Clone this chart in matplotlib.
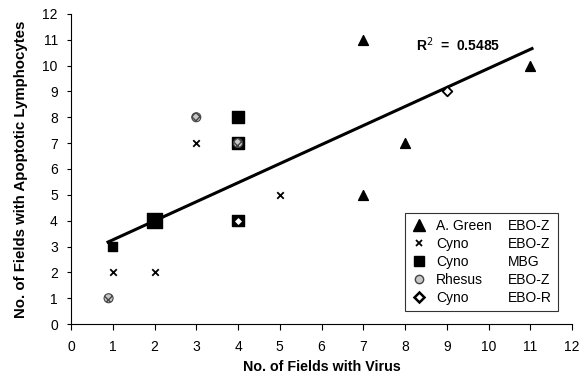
import numpy as np
import matplotlib.pyplot as plt
from matplotlib.lines import Line2D

plt.rcParams['font.family'] = ['Liberation Sans', 'DejaVu Sans']

# data
tri_x = [7, 11, 8, 7]
tri_y = [11, 10, 7, 5]
cross_x = [1, 2, 3, 5]
cross_y = [2, 2, 7, 5]
sq_x = [1, 2, 4, 4, 4]
sq_y = [3, 4, 8, 7, 4]
circ_x = [0.9, 3, 4]
circ_y = [1, 8, 7]
dia_x = [9, 4]
dia_y = [9, 4]

fit_slope = 0.737
fit_icpt = 2.52
fit_range = [0.886, 11.04]
r2 = 0.5485

names = ['A. Green', 'Cyno', 'Cyno', 'Rhesus', 'Cyno']
viruses = ['EBO-Z', 'EBO-Z', 'MBG', 'EBO-Z', 'EBO-R']

fig = plt.figure(figsize=(5.82, 3.84), dpi=100)
ax = fig.add_axes([0.122, 0.156, 0.861, 0.808])

xf = np.array(fit_range)
ax.plot(xf, fit_slope * xf + fit_icpt, color='black', lw=2.2, zorder=2)

sq_sizes = [45, 110, 70, 70, 70]
ax.scatter(tri_x, tri_y, marker='^', s=50, color='black', zorder=3)
ax.scatter(cross_x, cross_y, marker='x', s=22, color='black', lw=1.3, zorder=3)
ax.scatter(sq_x, sq_y, marker='s', s=sq_sizes, color='black', zorder=3)
ax.scatter(circ_x, circ_y, marker='o', s=42, facecolor='#c8c8c8', edgecolor='#444444',
           hatch='xxxx', lw=0.8, zorder=4)
ax.scatter(dia_x, dia_y, marker='D', s=24, facecolor='white', edgecolor='black', lw=1.3, zorder=4)

ax.text(8.25, 10.8, 'R$^2$  =  %.4f' % r2, fontsize=10, fontweight='bold', ha='left', va='center')

ax.set_xlim(0, 12)
ax.set_ylim(0, 12)
ax.set_xticks(range(0, 13))
ax.set_yticks(range(0, 13))
ax.spines['top'].set_visible(False)
ax.spines['right'].set_visible(False)
ax.tick_params(direction='out', labelsize=10)
ax.tick_params(axis='x', length=4, pad=7.5)
ax.tick_params(axis='y', length=3, pad=6.5)
ax.set_xlabel('No. of Fields with Virus', fontsize=10.3, fontweight='bold', labelpad=4)
ax.set_ylabel('No. of Fields with Apoptotic Lymphocytes', fontsize=10.8, fontweight='bold', labelpad=10)

handles = [
    Line2D([], [], ls='none', marker='^', ms=8, color='black'),
    Line2D([], [], ls='none', marker='x', ms=5, mew=1.3, color='black'),
    Line2D([], [], ls='none', marker='s', ms=7, color='black'),
    Line2D([], [], ls='none', marker='o', ms=6, mfc='#c8c8c8', mec='#444444'),
    Line2D([], [], ls='none', marker='D', ms=5, mfc='white', mec='black', mew=1.8),
]
blanks = [Line2D([], [], ls='none') for _ in viruses]
leg = ax.legend(handles + blanks, names + viruses, ncol=2, loc='lower right',
                bbox_to_anchor=(0.985, 0.02), fontsize=10, frameon=True, fancybox=False,
                edgecolor='black', handlelength=1.2, handletextpad=0.6,
                columnspacing=-0.65, labelspacing=0.28, borderpad=0.45)
leg.get_frame().set_linewidth(0.8)

fig.savefig('out.png', dpi=100)
